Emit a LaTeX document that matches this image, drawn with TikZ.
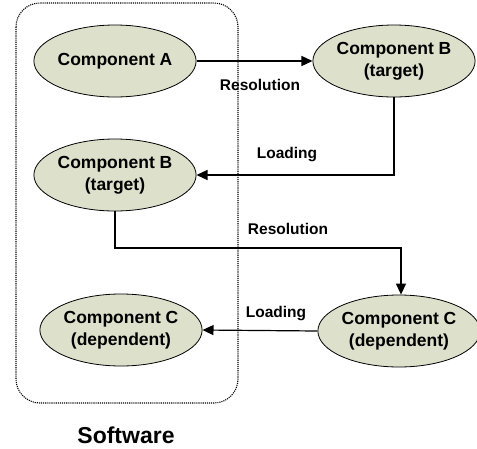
\documentclass[tikz,border=0pt]{standalone}
\usepackage{fontspec}
\setmainfont{Liberation Sans}
\usetikzlibrary{shapes.geometric,arrows.meta}
\definecolor{compfill}{RGB}{221,224,203}
\begin{document}
\begin{tikzpicture}[x=1pt,y=-1pt,
  comp/.style={ellipse,draw=black,line width=0.8pt,fill=compfill,inner sep=0pt,
    font=\fontsize{17.5}{21.5}\selectfont\bfseries,align=center},
  lbl/.style={font=\fontsize{15.5}{18}\selectfont\bfseries,inner sep=0pt},
  conn/.style={draw=black,line width=1.2pt,-{Triangle[length=11pt,width=10pt]}}]
\useasboundingbox (0,0) rectangle (477,448);
\draw[densely dotted,line width=1.1pt,rounded corners=24pt] (16,3) rectangle (238,403);
\node[comp,minimum width=156pt,minimum height=72pt] (a) at (115,61) {Component A};
\node[comp,minimum width=154pt,minimum height=72pt] (bt) at (394,61) {Component B\\(target)};
\node[comp,minimum width=156pt,minimum height=72pt] (bl) at (115,175) {Component B\\(target)};
\node[comp,minimum width=162pt,minimum height=72pt] (cl) at (121,330) {Component C\\(dependent)};
\node[comp,minimum width=156pt,minimum height=72pt] (cr) at (399,331) {Component C\\(dependent)};
\draw[conn] (a) -- (bt);
\draw[conn] (bt.south) |- (bl.east);
\coordinate (m) at (401,248);
\draw[conn] (bl.south) |- (m) -- (m |- cr.north);
\draw[conn] (cr.west) -- (cl.east);
\node[lbl] (l1) at (260,85) {Resolution};
\node[lbl] (l2) at (287,155) {Loading};
\node[lbl] (l3) at (288,229) {Resolution};
\node[lbl] (l4) at (276,314) {Loading};
\node[font=\fontsize{23}{26}\selectfont\bfseries,inner sep=0pt] (sw) at (126,435) {Software};
\end{tikzpicture}
\end{document}
